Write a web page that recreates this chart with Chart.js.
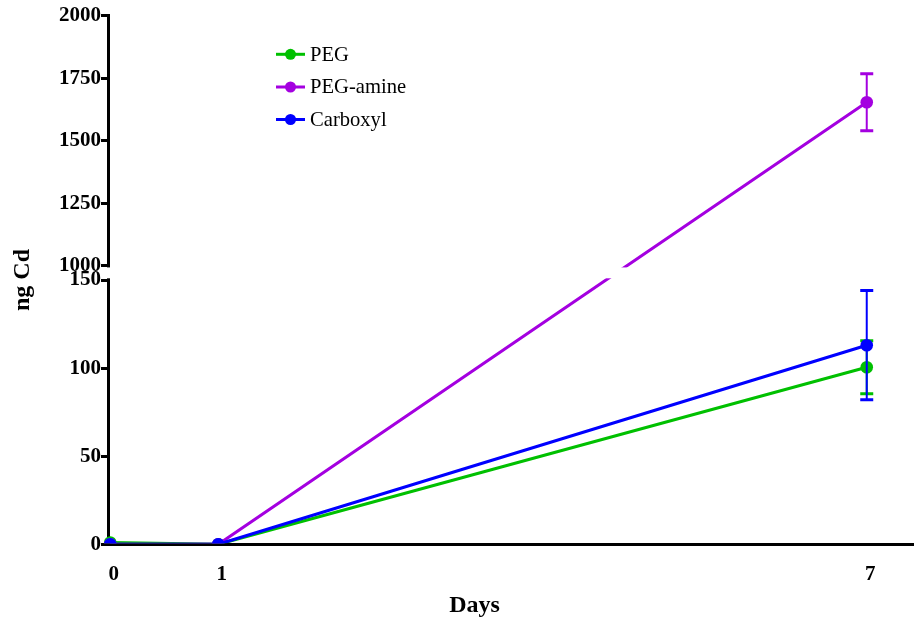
<!DOCTYPE html>
<html>
<head>
<meta charset="utf-8">
<script src="https://cdn.jsdelivr.net/npm/chart.js@4/dist/chart.umd.min.js"></script>
<style>
  html, body { margin: 0; padding: 0; background: #fff; }
  #c { display: block; }
</style>
</head>
<body>
<canvas id="c" width="914" height="619"></canvas>
<script>
// ---- data ----
const DAYS = [0, 1, 7];
const SERIES_NAMES = ['PEG', 'PEG-amine', 'Carboxyl'];
const PEG = [1, 0, 100.5];
const PEG_ERR = [0, 0, 15];
const PEG_AMINE = [0, 0, 1654];
const PEG_AMINE_ERR = [0, 0, 114];
const CARBOXYL = [0, 0, 113];
const CARBOXYL_ERR = [0, 0, 31];
const X_TICKS = [0, 1, 7];
const Y_TICKS = [0, 50, 100, 150, 1000, 1250, 1500, 1750, 2000];
const COLORS = ['#00c000', '#a400e0', '#0000ff'];

// ---- broken linear scale ----
class BrokenScale extends Chart.LinearScale {
  determineDataLimits() {
    const b = this.options.brk;
    this.min = b.lowMin;
    this.max = b.highMax;
  }
  buildTicks() {
    return this.options.brk.ticks.map(v => ({ value: v }));
  }
  _frac(value) {
    const b = this.options.brk;
    if (value <= b.lowMax) return (value - b.lowMin) / (b.lowMax - b.lowMin) * b.lowFrac;
    if (value >= b.highMin) return 1 - (b.highMax - value) / (b.highMax - b.highMin) * b.highFrac;
    return b.lowFrac + (value - b.lowMax) / (b.highMin - b.lowMax) * (1 - b.lowFrac - b.highFrac);
  }
  getPixelForValue(value) {
    if (value === null || value === undefined || isNaN(value)) return NaN;
    return this.bottom - this._frac(value) * (this.bottom - this.top);
  }
  getValueForPixel(pixel) {
    const b = this.options.brk;
    const f = (this.bottom - pixel) / (this.bottom - this.top);
    if (f <= b.lowFrac) return b.lowMin + f / b.lowFrac * (b.lowMax - b.lowMin);
    if (f >= 1 - b.highFrac) return b.highMax - (1 - f) / b.highFrac * (b.highMax - b.highMin);
    return b.lowMax + (f - b.lowFrac) / (1 - b.lowFrac - b.highFrac) * (b.highMin - b.lowMax);
  }
}
BrokenScale.id = 'broken';
BrokenScale.defaults = Chart.LinearScale.defaults;
Chart.register(BrokenScale);

function pts(arr) { return DAYS.map((d, i) => ({ x: d, y: arr[i] })); }

const SERIF = "'Liberation Serif', 'Times New Roman', serif";

const errorBarPlugin = {
  id: 'errorBars',
  beforeDatasetDraw(chart, args) {
    const ds = chart.data.datasets[args.index];
    if (!ds.errors) return;
    const xs = chart.scales.x, ys = chart.scales.y;
    const ctx = chart.ctx;
    ctx.save();
    ctx.strokeStyle = ds.borderColor;
    ds.data.forEach((p, i) => {
      const e = ds.errors[i];
      if (!e) return;
      const x = xs.getPixelForValue(p.x);
      const yt = ys.getPixelForValue(p.y + e);
      const yb = ys.getPixelForValue(p.y - e);
      ctx.lineWidth = 2;
      ctx.beginPath(); ctx.moveTo(x, yt); ctx.lineTo(x, yb); ctx.stroke();
      ctx.lineWidth = 3;
      ctx.beginPath();
      ctx.moveTo(x - 6.5, yt); ctx.lineTo(x + 6.5, yt);
      ctx.moveTo(x - 6.5, yb); ctx.lineTo(x + 6.5, yb);
      ctx.stroke();
    });
    ctx.restore();
  }
};

const overlayPlugin = {
  id: 'overlay',
  afterDraw(chart) {
    const ctx = chart.ctx;
    const ys = chart.scales.y;
    const area = chart.chartArea;
    const b = ys.options.brk;
    const y1 = ys.getPixelForValue(b.highMin);
    const y2 = ys.getPixelForValue(b.lowMax);
    ctx.save();
    // axis break gap
    ctx.fillStyle = '#fff';
    ctx.fillRect(area.left - 2.5, y1 + 1.7, area.right - area.left + 12, (y2 - y1) - 3.4);
    // legend
    ctx.font = '20.6px ' + SERIF;
    ctx.textBaseline = 'middle';
    ctx.textAlign = 'left';
    const rows = [54.3, 87, 119.5];
    chart.data.datasets.forEach((ds, i) => {
      const y = rows[i];
      ctx.strokeStyle = ds.borderColor;
      ctx.lineWidth = 3;
      ctx.beginPath(); ctx.moveTo(276, y); ctx.lineTo(305, y); ctx.stroke();
      ctx.fillStyle = ds.borderColor;
      ctx.beginPath(); ctx.arc(290.5, y, 5.5, 0, Math.PI * 2); ctx.fill();
      ctx.fillStyle = '#000';
      ctx.fillText(ds.label, 310, y + 1);
    });
    // x axis title
    ctx.font = 'bold 24px ' + SERIF;
    ctx.textAlign = 'center';
    ctx.fillText('Days', 474.5, 606);
    ctx.restore();
  }
};

const datasets = [
  { label: SERIES_NAMES[0], data: pts(PEG), errors: PEG_ERR, borderColor: COLORS[0], backgroundColor: COLORS[0], order: 3 },
  { label: SERIES_NAMES[1], data: pts(PEG_AMINE), errors: PEG_AMINE_ERR, borderColor: COLORS[1], backgroundColor: COLORS[1], order: 2 },
  { label: SERIES_NAMES[2], data: pts(CARBOXYL), errors: CARBOXYL_ERR, borderColor: COLORS[2], backgroundColor: COLORS[2], order: 1 }
].map(d => Object.assign(d, {
  borderWidth: 3, pointRadius: 6.3, pointBorderWidth: 0, pointHoverRadius: 6.3,
  tension: 0, clip: { left: 10, top: 10, right: 10, bottom: -1 }
}));

new Chart(document.getElementById('c'), {
  type: 'line',
  data: { datasets },
  plugins: [errorBarPlugin, overlayPlugin],
  options: {
    responsive: false,
    devicePixelRatio: 1,
    animation: false,
    layout: { autoPadding: false, padding: { top: 15.7, right: 1, bottom: 0, left: 0 } },
    plugins: { legend: { display: false }, tooltip: { enabled: false } },
    scales: {
      x: {
        type: 'linear',
        min: -0.016,
        max: 7.428,
        z: 1,
        afterBuildTicks: s => { s.ticks = X_TICKS.map(v => ({ value: v })); },
        afterFit: s => { s.height = 74.7; s.paddingLeft = 0; s.paddingRight = 0; },
        grid: { display: false, drawTicks: false },
        border: { display: true, width: 3, color: '#000' },
        ticks: {
          autoSkip: false, maxRotation: 0, color: '#000', padding: 18, labelOffset: 3.5,
          font: { family: SERIF, size: 21, weight: 'bold' },
          callback: v => String(v)
        }
      },
      y: {
        type: 'broken',
        position: 'left',
        z: 1,
        brk: { lowMin: 0, lowMax: 150, highMin: 1000, highMax: 2000, lowFrac: 0.5, highFrac: 0.473, ticks: Y_TICKS },
        afterFit: s => { s.width = 108.5; },
        grid: { display: true, drawOnChartArea: false, drawTicks: true, tickLength: 7.5, lineWidth: 3, color: '#000' },
        border: { display: true, width: 3, color: '#000' },
        ticks: {
          autoSkip: false, color: '#000', padding: 0,
          font: { family: SERIF, size: 21, weight: 'bold' },
          callback: v => String(v)
        },
        title: {
          display: true, text: 'ng Cd', color: '#000',
          font: { family: SERIF, size: 24, weight: 'bold' },
          padding: { top: 8, bottom: 0 }
        }
      }
    }
  }
});
</script>
</body>
</html>
